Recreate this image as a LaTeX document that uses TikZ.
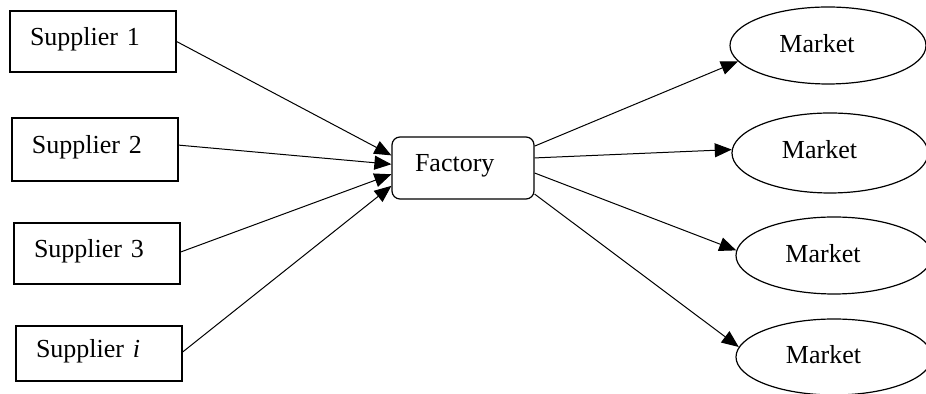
\documentclass[tikz,border=0pt]{standalone}
\usepackage{fontspec}
\setmainfont{Liberation Serif}
\usetikzlibrary{arrows.meta,shapes.geometric}
\tikzset{
  supbox/.style={draw, line width=0.6pt, inner xsep=10pt, inner ysep=0pt,
    text width=63pt, align=left, text height=9pt, text depth=5pt,
    font=\fontsize{13}{15}\selectfont},
  factorybox/.style={draw, line width=0.6pt, rounded corners=4pt,
    minimum width=71pt, minimum height=31pt, inner xsep=11.5pt,
    text width=48pt, align=left, text height=9pt, text depth=5pt,
    font=\fontsize{13}{15}\selectfont},
  marketshape/.style={draw, ellipse, line width=0.6pt, minimum width=98pt, inner sep=0pt},
  markettext/.style={font=\fontsize{13}{15}\selectfont, inner sep=0pt},
  flow/.style={line width=0.5pt, -{Triangle[length=8.5pt,width=7pt]}}
}
\begin{document}
\begin{tikzpicture}[x=0.5pt,y=-0.5pt]
\useasboundingbox (0,0) rectangle (926,394);

% suppliers
\node[supbox, minimum height=30.5pt] (s1) at (93,41.5) {Supplier 1};
\node[supbox, minimum height=31.5pt] (s2) at (95,149.5) {Supplier 2};
\node[supbox, minimum height=30.5pt] (s3) at (97,253.5) {Supplier 3};
\node[supbox, minimum height=27.5pt] (si) at (99,353.5) {Supplier \textit{i}};

% factory
\node[factorybox] (fac) at (463,168) {Factory};

% markets
\node[marketshape, minimum height=38.5pt] (m1) at (828,45.5) {};
\node[marketshape, minimum height=40pt]   (m2) at (830,153) {};
\node[marketshape, minimum height=38.5pt] (m3) at (834,255.5) {};
\node[marketshape, minimum height=38pt]   (m4) at (834,357) {};
\node[markettext] (m1t) at (817,44) {Market};
\node[markettext] (m2t) at (819.5,150) {Market};
\node[markettext] (m3t) at (823,254) {Market};
\node[markettext] (m4t) at (823.5,355) {Market};

% inbound flows
\draw[flow] (s1.east) -- (fac.170.8);
\draw[flow] (s2.3) -- (fac.177.6);
\draw[flow] (s3.1.7) -- (fac.185.6);
\draw[flow] (si.1) -- (fac.194.2);

% outbound flows
\draw[flow] (fac.17.2) -- (m1.190);
\draw[flow] (fac.8) -- (m2.178);
\draw[flow] (fac.356.8) -- (m3.177);
\draw[flow] (fac.340.6) -- (m4.174);
\end{tikzpicture}
\end{document}
